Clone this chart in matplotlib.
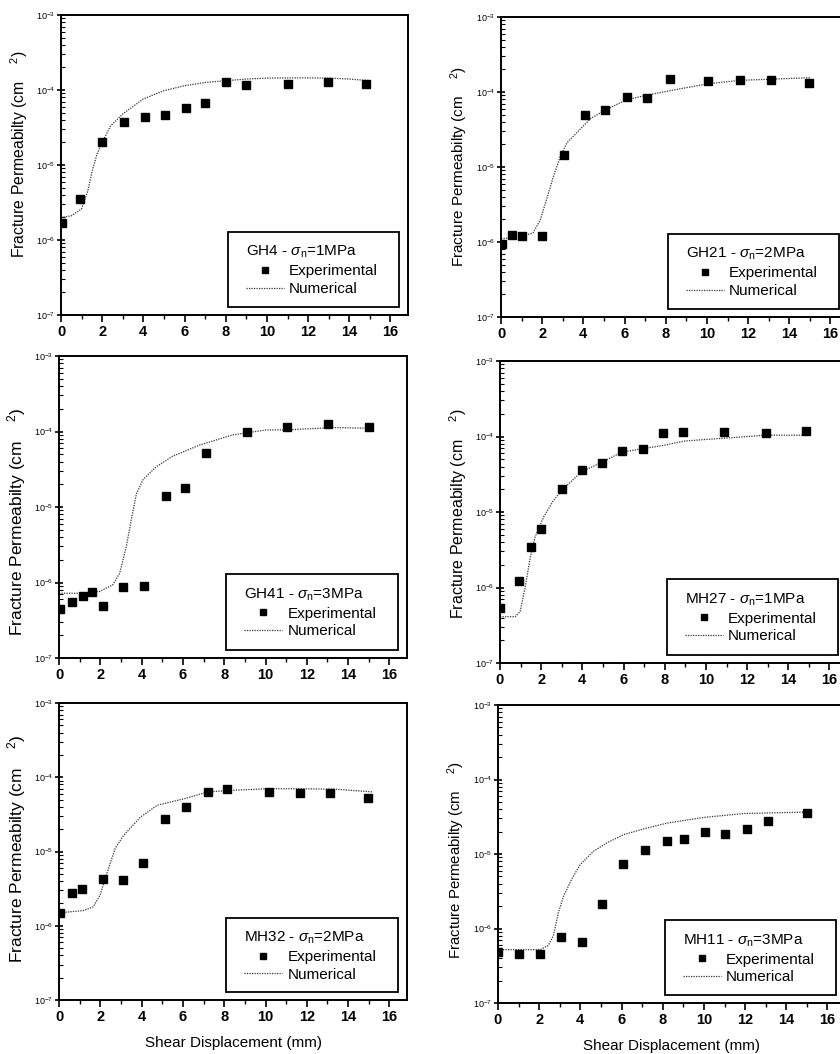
import matplotlib
matplotlib.use("Agg")
import matplotlib.pyplot as plt
from matplotlib.lines import Line2D
from matplotlib.patches import Rectangle
from matplotlib.ticker import LogLocator, MultipleLocator, LogFormatterSciNotation

plt.rcParams["font.family"] = ["Liberation Sans", "DejaVu Sans"]
plt.rcParams["mathtext.fontset"] = "custom"
plt.rcParams["mathtext.rm"] = "Liberation Sans"
plt.rcParams["mathtext.it"] = "Liberation Sans:italic"
plt.rcParams["mathtext.default"] = "regular"

# GH4, sigma_n = 1 MPa
gh4_exp_x = [0.03, 0.92, 2.0, 3.04, 4.1, 5.04, 6.06, 7.0, 8.03, 8.97, 11.0, 12.96, 14.83]
gh4_exp_y = [1.7e-6, 3.5e-6, 2.0e-5, 3.7e-5, 4.3e-5, 4.7e-5, 5.8e-5, 6.8e-5, 1.29e-4, 1.16e-4, 1.2e-4, 1.26e-4, 1.22e-4]
gh4_num_x = [0, 0.5, 1.0, 1.3, 1.5, 1.75, 2.0, 2.4, 3.0, 4.0, 5.0, 6.0, 7.0, 8.0, 9.0, 10.0, 11.0, 12.0, 13.0, 14.0, 15.0]
gh4_num_y = [2.0e-6, 2.1e-6, 2.6e-6, 4.5e-6, 8.0e-6, 1.4e-5, 2.0e-5, 3.3e-5, 4.8e-5, 7.6e-5, 9.8e-5, 1.14e-4,
             1.26e-4, 1.33e-4, 1.40e-4, 1.44e-4, 1.45e-4, 1.45e-4, 1.44e-4, 1.40e-4, 1.33e-4]

# GH21, sigma_n = 2 MPa
gh21_exp_x = [0.05, 0.52, 1.0, 2.0, 3.08, 4.06, 5.04, 6.1, 7.09, 8.2, 10.07, 11.6, 13.1, 14.95]
gh21_exp_y = [9.5e-7, 1.25e-6, 1.21e-6, 1.2e-6, 1.43e-5, 4.9e-5, 5.7e-5, 8.6e-5, 8.3e-5, 1.48e-4, 1.42e-4, 1.46e-4, 1.43e-4, 1.32e-4]
gh21_num_x = [0, 1.06, 1.55, 1.9, 2.2, 2.54, 2.87, 3.2, 3.7, 4.34, 5.04, 6.1, 7.1, 8.43, 10.07, 11.6, 15.0]
gh21_num_y = [1.1e-6, 1.2e-6, 1.32e-6, 1.94e-6, 3.6e-6, 7.4e-6, 1.36e-5, 2.1e-5, 2.9e-5, 4.4e-5, 5.7e-5, 7.9e-5,
              9.1e-5, 1.07e-4, 1.29e-4, 1.43e-4, 1.55e-4]

# GH41, sigma_n = 3 MPa
gh41_exp_x = [0.03, 0.65, 1.16, 1.62, 2.13, 3.1, 4.1, 5.2, 6.09, 7.1, 9.08, 11.05, 13.04, 15.02]
gh41_exp_y = [4.4e-7, 5.5e-7, 6.7e-7, 7.5e-7, 4.9e-7, 8.6e-7, 9.1e-7, 1.4e-5, 1.8e-5, 5.2e-5, 9.8e-5, 1.16e-4, 1.26e-4, 1.16e-4]
gh41_num_x = [0, 1.0, 1.97, 2.6, 2.94, 3.26, 3.5, 3.75, 4.07, 4.7, 5.5, 6.8, 8.4, 10.05, 11.0, 13.3, 15.06]
gh41_num_y = [7.2e-7, 7.2e-7, 7.6e-7, 9.3e-7, 1.33e-6, 3.0e-6, 6.8e-6, 1.5e-5, 2.3e-5, 3.4e-5, 4.7e-5, 6.6e-5,
              9.0e-5, 1.05e-4, 1.05e-4, 1.13e-4, 1.1e-4]

# MH27, sigma_n = 1 MPa
mh27_exp_x = [0.0, 0.94, 1.5, 1.99, 3.01, 3.96, 4.97, 5.91, 6.92, 7.9, 8.9, 10.9, 12.9, 14.87]
mh27_exp_y = [5.4e-7, 1.22e-6, 3.4e-6, 6.0e-6, 2.0e-5, 3.6e-5, 4.5e-5, 6.4e-5, 6.8e-5, 1.11e-4, 1.16e-4, 1.16e-4, 1.12e-4, 1.18e-4]
mh27_num_x = [0, 0.73, 0.98, 1.22, 1.47, 1.71, 2.12, 2.6, 3.0, 3.96, 4.97, 5.91, 6.92, 7.9, 8.96, 9.9, 10.9, 12.9, 14.65, 14.87]
mh27_num_y = [4.1e-7, 4.1e-7, 4.8e-7, 1.0e-6, 2.5e-6, 4.7e-6, 8.6e-6, 1.43e-5, 1.94e-5, 3.4e-5, 4.6e-5, 6.2e-5,
              6.9e-5, 7.6e-5, 8.7e-5, 9.1e-5, 9.5e-5, 1.04e-4, 1.04e-4, 1.18e-4]

# MH32, sigma_n = 2 MPa
mh32_exp_x = [0.07, 0.62, 1.09, 2.13, 3.09, 4.07, 5.13, 6.14, 7.2, 8.14, 10.16, 11.68, 13.14, 14.95]
mh32_exp_y = [1.5e-6, 2.8e-6, 3.1e-6, 4.2e-6, 4.1e-6, 6.9e-6, 2.75e-5, 4.0e-5, 6.35e-5, 6.9e-5, 6.3e-5, 6.1e-5, 6.2e-5, 5.2e-5]
mh32_num_x = [0.07, 1.17, 1.66, 1.99, 2.31, 2.72, 3.13, 3.94, 4.76, 6.14, 7.2, 8.5, 10.13, 11.76, 13.4, 15.18]
mh32_num_y = [1.5e-6, 1.6e-6, 1.8e-6, 2.6e-6, 5.0e-6, 1.1e-5, 1.65e-5, 2.9e-5, 4.2e-5, 5.2e-5, 6.35e-5, 6.7e-5,
              7.0e-5, 7.0e-5, 6.9e-5, 6.35e-5]

# MH11, sigma_n = 3 MPa
mh11_exp_x = [0.0, 1.03, 2.04, 3.06, 4.07, 5.07, 6.07, 7.12, 8.19, 9.04, 10.07, 11.04, 12.07, 13.11, 15.02]
mh11_exp_y = [4.8e-7, 4.5e-7, 4.5e-7, 7.6e-7, 6.5e-7, 2.1e-6, 7.4e-6, 1.14e-5, 1.49e-5, 1.61e-5, 1.98e-5, 1.84e-5,
              2.15e-5, 2.75e-5, 3.5e-5]
mh11_num_x = [0, 1.06, 2.04, 2.44, 2.69, 2.93, 3.18, 3.58, 3.99, 4.64, 5.29, 6.1, 7.25, 8.22, 10.0, 11.97, 15.06]
mh11_num_y = [5.2e-7, 5.2e-7, 5.2e-7, 5.9e-7, 8.0e-7, 1.63e-6, 2.7e-6, 4.6e-6, 7.2e-6, 1.09e-5, 1.41e-5, 1.82e-5,
              2.24e-5, 2.6e-5, 3.1e-5, 3.5e-5, 3.66e-5]

samples = ["GH4", "GH21", "GH41", "MH27", "MH32", "MH11"]
stresses = [1, 2, 3, 1, 2, 3]

W, H = 840, 1054
# axes boxes in pixels: left, top, right, bottom
boxes = [(61, 15, 408, 315), (501, 17, 848, 317),
         (59, 356, 407, 658), (500, 361, 847, 663),
         (59, 703, 407, 1000), (498, 705, 845, 1003)]
# the scanned panels were set at slightly different sizes
ylabel_size = [11.3, 11, 12.5, 11.5, 12.5, 10.8]
ylabel_pos = [0.537, 0.5, 0.45, 0.493, 0.508, 0.48]

series = [(gh4_exp_x, gh4_exp_y, gh4_num_x, gh4_num_y),
          (gh21_exp_x, gh21_exp_y, gh21_num_x, gh21_num_y),
          (gh41_exp_x, gh41_exp_y, gh41_num_x, gh41_num_y),
          (mh27_exp_x, mh27_exp_y, mh27_num_x, mh27_num_y),
          (mh32_exp_x, mh32_exp_y, mh32_num_x, mh32_num_y),
          (mh11_exp_x, mh11_exp_y, mh11_num_x, mh11_num_y)]

num_style = dict(color="#333333", lw=0.9, ls=(0, (1, 1)))

fig = plt.figure(figsize=(W / 100, H / 100), dpi=100)

for i, ((ex, ey, nx, ny), (l, t, r, b)) in enumerate(zip(series, boxes)):
    ax = fig.add_axes([l / W, 1 - b / H, (r - l) / W, (b - t) / H])
    ax.plot(nx, ny, **num_style)
    ax.plot(ex, ey, ls="none", marker="s", ms=5.5, color="black")
    ax.set_yscale("log")
    ax.set_ylim(1e-7, 1e-3)
    ax.set_xlim(0, 16.85)

    ax.xaxis.set_major_locator(MultipleLocator(2))
    ax.xaxis.set_minor_locator(MultipleLocator(1))
    ax.yaxis.set_major_locator(LogLocator(base=10, numticks=10))
    ax.yaxis.set_minor_locator(LogLocator(base=10, subs=range(2, 10), numticks=10))
    ax.yaxis.set_major_formatter(LogFormatterSciNotation())
    ax.tick_params(axis="x", which="major", direction="out", length=5, width=1.2, labelsize=10.5, pad=2)
    ax.tick_params(axis="x", which="minor", direction="out", length=3, width=1.0)
    ax.tick_params(axis="y", which="major", direction="inout", length=6, width=1.2, labelsize=6.5, pad=1)
    ax.tick_params(axis="y", which="minor", direction="in", length=3, width=0.8)
    for lab in ax.get_xticklabels():
        lab.set_fontweight("bold")
    for sp in ax.spines.values():
        sp.set_linewidth(1.4)

    ax.set_ylabel(r"Fracture Permeabilty (cm    $^{2}$)", fontsize=ylabel_size[i])
    ax.yaxis.set_label_coords(-31 / (r - l), ylabel_pos[i])
    if i >= 4:
        ax.set_xlabel("Shear Displacement (mm)", fontsize=11, labelpad=9)

    # legend frame drawn by hand so the side padding can be wider than the top/bottom
    ax.add_patch(Rectangle((0.48, 0.027), 0.495, 0.25, transform=ax.transAxes,
                           facecolor="white", edgecolor="black", lw=1.3, zorder=4))
    title = samples[i] + r" - $\mathit{\sigma}_{n}$=" + f"{stresses[i]}MPa"
    handles = [Line2D([], [], ls="none", marker="s", ms=5, color="black"),
               Line2D([], [], **num_style)]
    ax.legend(handles, ["Experimental", "Numerical"], title=title, loc="upper left",
              bbox_to_anchor=(0.48 + 18 / (r - l), 0.277 - 12 / (b - t)), borderaxespad=0,
              borderpad=0, fontsize=11, title_fontsize=11, alignment="left",
              handlelength=2.5, handletextpad=0.35, labelspacing=0.25, frameon=False)

fig.savefig("out.png", dpi=100)
